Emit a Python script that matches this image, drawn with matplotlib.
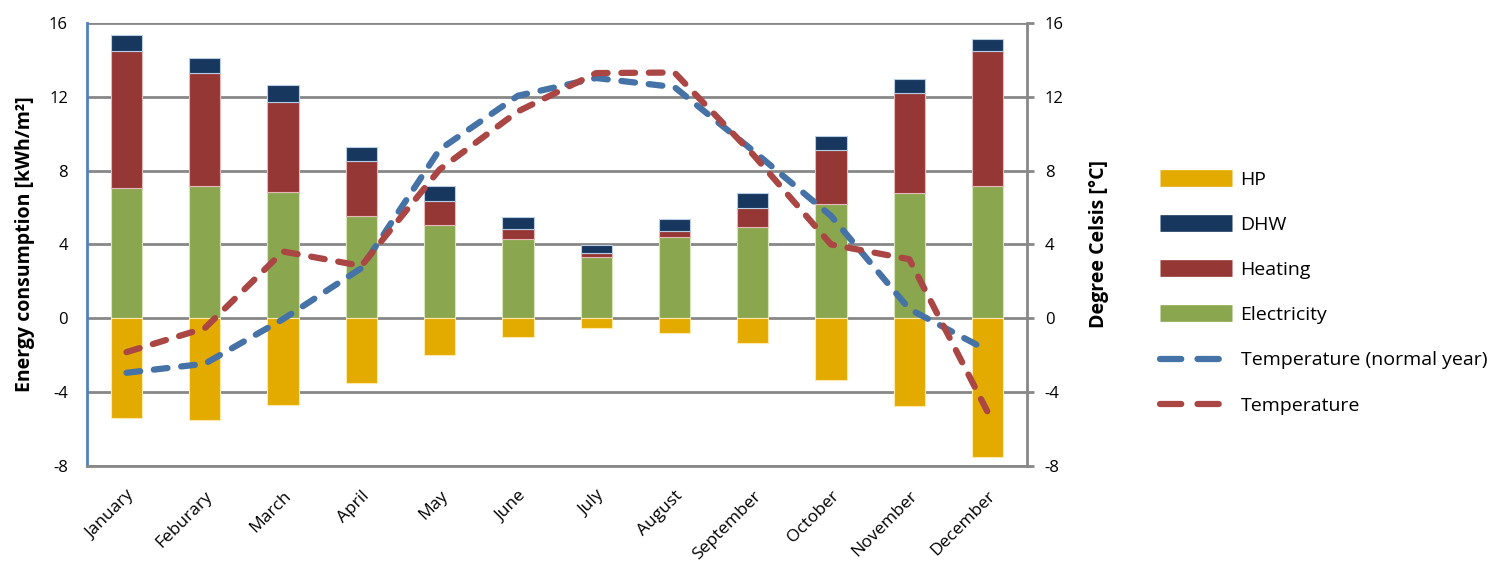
import numpy as np
import matplotlib.pyplot as plt
from matplotlib.lines import Line2D

plt.rcParams['font.family'] = ['Open Sans', 'DejaVu Sans']

months = ["January", "Feburary", "March", "April", "May", "June", "July",
          "August", "September", "October", "November", "December"]
electricity = [7.04, 7.15, 6.83, 5.55, 5.04, 4.29, 3.33, 4.39, 4.94, 6.18, 6.81, 7.15]
heating = [7.45, 6.18, 4.90, 2.99, 1.34, 0.57, 0.20, 0.35, 1.06, 2.93, 5.41, 7.34]
dhw = [0.89, 0.81, 0.92, 0.76, 0.79, 0.63, 0.43, 0.67, 0.77, 0.78, 0.77, 0.68]
hp = [-5.39, -5.50, -4.72, -3.51, -2.02, -1.03, -0.51, -0.78, -1.34, -3.34, -4.74, -7.55]
temp_normal = [-2.96, -2.47, -0.05, 2.72, 9.15, 12.07, 13.03, 12.54, 9.1, 5.55, 0.5, -1.75]
temp = [-1.84, -0.54, 3.62, 2.84, 8.07, 11.22, 13.3, 13.33, 8.9, 4.0, 3.2, -5.08]

c_hp = '#E3AA00'
c_dhw = '#17375E'
c_heat = '#953735'
c_elec = '#8AA64E'
c_blue = '#4572A7'
c_red = '#AA4643'
dash = (2.2, 2.2)
leg_dash = (3.4, 2.6)

fig = plt.figure(figsize=(15.09, 5.67), dpi=100)
ax = fig.add_axes([0.0579, 0.1787, 0.6225, 0.7802])
x = np.arange(len(months))
w = 0.4

ax.set_axisbelow(True)
ax.yaxis.grid(True, color='#888888', linewidth=2)
ax.bar(x, electricity, w, color=c_elec, edgecolor='#d8e4bc', linewidth=0.8, zorder=2)
b1 = np.array(electricity)
ax.bar(x, heating, w, bottom=b1, color=c_heat, edgecolor='#e6b9b8', linewidth=0.8, zorder=2)
b2 = b1 + np.array(heating)
ax.bar(x, dhw, w, bottom=b2, color=c_dhw, edgecolor='#b9cde5', linewidth=0.8, zorder=2)
ax.bar(x, hp, w, color=c_hp, edgecolor='#fde9a9', linewidth=0.8, zorder=2)

ax2 = ax.twinx()
ax2.plot(x, temp_normal, color=c_blue, lw=4.5, dashes=dash, dash_capstyle='round', zorder=3)
ax2.plot(x, temp, color=c_red, lw=4.5, dashes=dash, dash_capstyle='round', zorder=3)

ticks = [-8, -4, 0, 4, 8, 12, 16]
for a in (ax, ax2):
    a.set_ylim(-8, 16)
    a.set_yticks(ticks)
    a.set_yticklabels([str(t) for t in ticks], fontsize=12)
    a.set_xlim(-0.5, 11.5)
ax.tick_params(axis='y', length=0, pad=14)
ax2.tick_params(axis='y', length=5, width=2, color='#888888', pad=8, direction='out')
ax.set_xticks(x)
ax.set_xticklabels(months, rotation=45, ha='right', rotation_mode='anchor', fontsize=12.5)
ax.tick_params(axis='x', length=0, pad=16)

ax.spines['top'].set_visible(False)
ax2.spines['top'].set_visible(False)
ax.spines['left'].set_color('#4F81BD')
ax.spines['left'].set_linewidth(2)
ax2.spines['left'].set_visible(False)
ax2.spines['right'].set_color('#888888')
ax2.spines['right'].set_linewidth(2)
ax2.spines['bottom'].set_color('#888888')
ax2.spines['bottom'].set_linewidth(2)
ax.spines['bottom'].set_visible(False)
ax.spines['right'].set_visible(False)

ax.set_ylabel('Energy consumption [kWh/m²]', fontsize=14, fontweight='bold', labelpad=10)
ax2.set_ylabel('Degree Celsis [°C]', fontsize=14, fontweight='bold', labelpad=18)

handles = [
    Line2D([0], [0], color=c_hp, lw=12, solid_capstyle='butt'),
    Line2D([0], [0], color=c_dhw, lw=12, solid_capstyle='butt'),
    Line2D([0], [0], color=c_heat, lw=12, solid_capstyle='butt'),
    Line2D([0], [0], color=c_elec, lw=12, solid_capstyle='butt'),
    Line2D([0], [0], color=c_blue, lw=4.5, dashes=leg_dash, dash_capstyle='round'),
    Line2D([0], [0], color=c_red, lw=4.5, dashes=leg_dash, dash_capstyle='round'),
]
labels = ['HP', 'DHW', 'Heating', 'Electricity', 'Temperature (normal year)', 'Temperature']
fig.legend(handles, labels, loc='center left', bbox_to_anchor=(0.7635, 0.484),
           frameon=False, fontsize=14, handlelength=3.7, labelspacing=1.4,
           handletextpad=0.45, borderaxespad=0)

fig.savefig('out.png', dpi=100)
